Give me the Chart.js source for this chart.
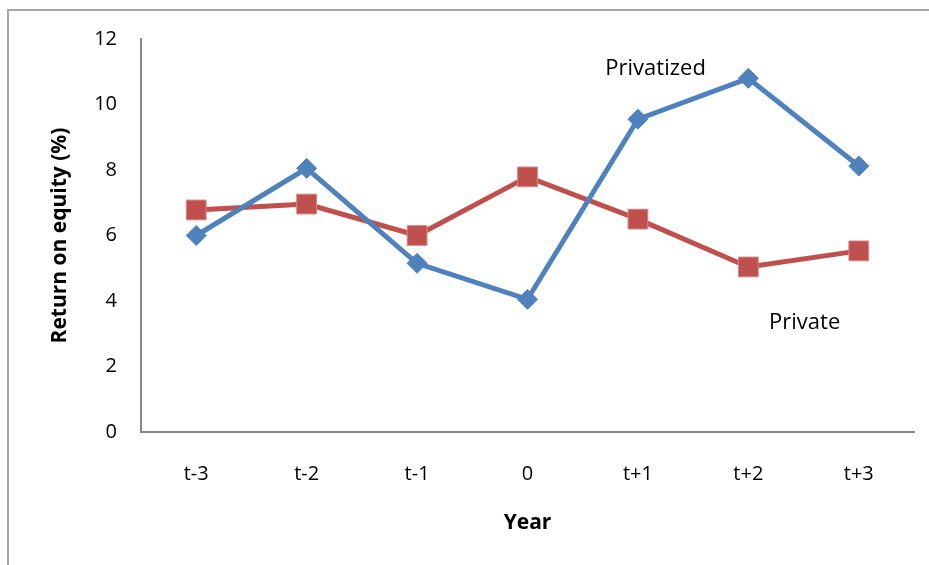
<!DOCTYPE html>
<html>
<head>
<meta charset="utf-8">
<script src="https://cdn.jsdelivr.net/npm/chart.js@4"></script>
<style>
  html, body { margin: 0; padding: 0; background: #fff; }
  #wrap { position: relative; width: 929px; height: 565px; overflow: hidden; }
  #frame { position: absolute; left: 7px; top: 9px; width: 1000px; height: 1000px;
           border-top: 2px solid #a6a6a6; border-left: 2px solid #a6a6a6; }
  canvas { position: absolute; left: 0; top: 0; }
</style>
</head>
<body>
<div id="wrap">
  <div id="frame"></div>
  <canvas id="chart" width="929" height="565"></canvas>
</div>
<script>
const years = ['t-3', 't-2', 't-1', '0', 't+1', 't+2', 't+3'];
const privatized = [6.0, 8.05, 5.15, 4.05, 9.55, 10.8, 8.12];
const privateFirms = [6.78, 6.96, 6.0, 7.79, 6.5, 5.04, 5.53];
const yTicks = [0, 2, 4, 6, 8, 10, 12];

// text labels placed next to the lines: [text, category position, value]
const seriesLabels = [
    ['Privatized', 4.16, 11.1],
    ['Private', 5.51, 3.35]
];

const FONT = '"Open Sans", sans-serif';

const labelPlugin = {
    id: 'seriesLabels',
    afterDatasetsDraw(chart) {
        const ctx = chart.ctx;
        const x = chart.scales.x;
        const y = chart.scales.y;
        ctx.save();
        ctx.font = '22px ' + FONT;
        ctx.fillStyle = '#000';
        ctx.textAlign = 'center';
        ctx.textBaseline = 'middle';
        seriesLabels.forEach(l => {
            ctx.fillText(l[0], x.getPixelForValue(l[1]), y.getPixelForValue(l[2]));
        });
        ctx.restore();
    }
};

new Chart(document.getElementById('chart'), {
    type: 'line',
    data: {
        labels: years,
        datasets: [{
            label: 'Privatized',
            data: privatized,
            borderColor: '#4f81bd',
            backgroundColor: '#4f81bd',
            borderWidth: 5,
            pointStyle: 'rectRot',
            pointRadius: 10,
            pointHoverRadius: 10,
            pointBorderWidth: 1,
            tension: 0
        }, {
            label: 'Private',
            data: privateFirms,
            borderColor: '#c0504d',
            backgroundColor: '#c0504d',
            pointBorderColor: '#d28a88',
            borderWidth: 5,
            pointStyle: 'rect',
            pointRadius: 14,
            pointHoverRadius: 14,
            pointBorderWidth: 1,
            tension: 0
        }]
    },
    options: {
        responsive: false,
        animation: false,
        events: [],
        layout: { padding: { left: 0, top: 39, right: 15, bottom: 0 } },
        plugins: {
            legend: { display: false },
            tooltip: { enabled: false }
        },
        scales: {
            x: {
                offset: true,
                grid: { display: false, drawTicks: false },
                border: { display: true, color: '#878787', width: 2 },
                ticks: { color: '#000', font: { family: FONT, size: 20 }, padding: 30 },
                title: {
                    display: true, text: 'Year', color: '#000',
                    font: { family: FONT, size: 21, weight: 'bold' },
                    padding: { top: 0, bottom: 29 }
                },
                afterFit(scale) { scale.height = 133; }
            },
            y: {
                min: 0,
                max: 12,
                afterBuildTicks(scale) { scale.ticks = yTicks.map(v => ({ value: v })); },
                grid: { display: false, drawTicks: false },
                border: { display: true, color: '#878787', width: 2 },
                ticks: { color: '#000', font: { family: FONT, size: 20 }, padding: 24 },
                title: {
                    display: true, text: 'Return on equity (%)', color: '#000',
                    font: { family: FONT, size: 21, weight: 'bold' },
                    padding: { top: 47, bottom: 0 }
                },
                afterFit(scale) { scale.width = 141; }
            }
        }
    },
    plugins: [labelPlugin]
});
</script>
</body>
</html>
